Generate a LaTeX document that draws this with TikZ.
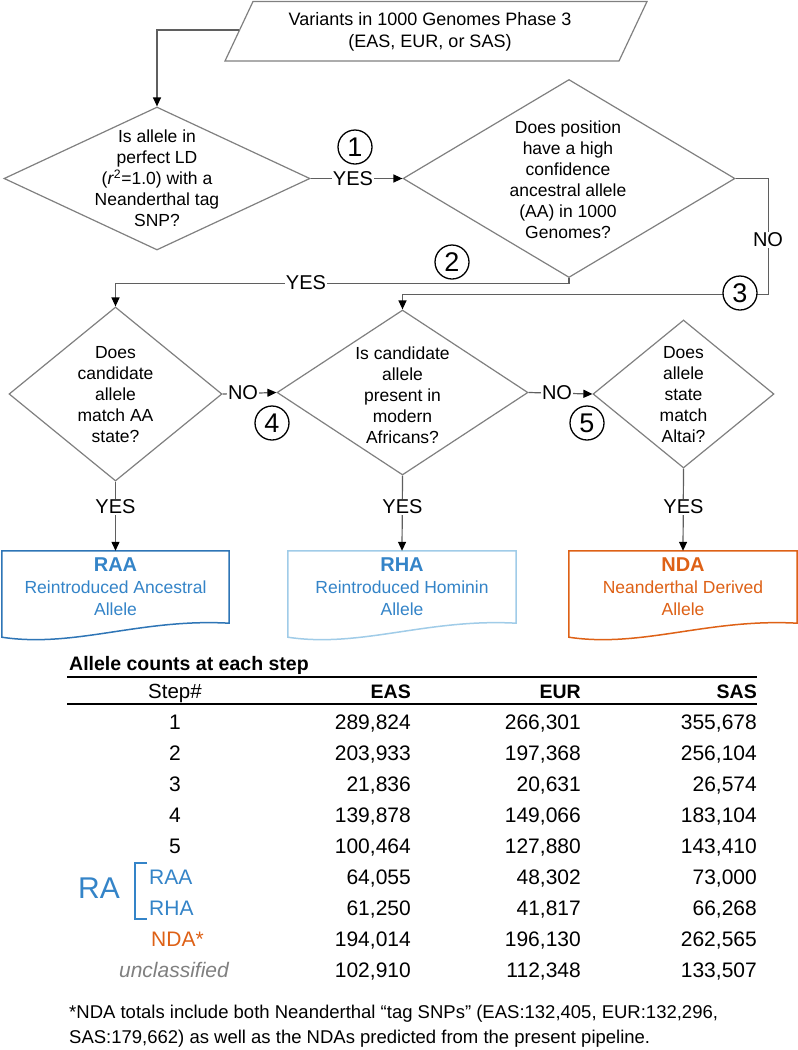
\documentclass[tikz,border=0pt]{standalone}
\usepackage{fontspec}
\setmainfont{Liberation Sans}
\usetikzlibrary{arrows.meta,shapes.geometric,calc}
\definecolor{graybd}{RGB}{128,128,128}
\definecolor{connc}{RGB}{95,95,95}
\definecolor{raablue}{RGB}{46,117,182}
\definecolor{txtblue}{RGB}{52,132,200}
\definecolor{rhabd}{RGB}{160,204,232}
\definecolor{ndaor}{RGB}{222,97,22}
\definecolor{unclgray}{RGB}{128,128,128}
\tikzset{
  dia/.style={diamond, draw=graybd, line width=1.2pt, inner sep=0pt},
  dtxt/.style={align=center, inner sep=0pt, font=\fontsize{17.5}{21}\selectfont},
  lbl/.style={fill=white, inner sep=1.2pt, font=\fontsize{20}{20}\selectfont},
  conn/.style={draw=connc, line width=1.2pt, -{Triangle[length=9pt,width=8pt,color=black]}},
  stepno/.style={circle, draw=black, line width=1.3pt, fill=white, minimum size=34pt, inner sep=0pt, font=\fontsize{27}{27}\selectfont},
  docbox/.style={rectangle, inner sep=0pt, minimum height=72pt, align=center, font=\fontsize{17.5}{22}\selectfont},
  tnum/.style={inner sep=0pt, anchor=base east, font=\fontsize{21}{21}\selectfont},
  tlab/.style={inner sep=0pt, anchor=base, font=\fontsize{21}{21}\selectfont},
  thead/.style={inner sep=0pt, anchor=base east, font=\fontsize{19.5}{20}\selectfont\bfseries},
  trule/.style={line width=1.8pt, draw=black},
}
\begin{document}
\begin{tikzpicture}[x=1pt,y=-1pt]
\useasboundingbox (0,0) rectangle (798,1050);
\fill[white] (0,0) rectangle (798,1050);

% input parallelogram
\draw[draw=graybd, line width=1.2pt] (253,1.5) -- (647,1.5) -- (619,61) -- (225,61) -- cycle;
\node[align=center, inner sep=0pt, font=\fontsize{18}{22}\selectfont] (input) at (430,32)
  {Variants in 1000 Genomes Phase 3\\(EAS, EUR, or SAS)};
\coordinate (inleft) at (239,30);

% diamonds
\node[dia, minimum width=306pt, minimum height=143pt] (d1) at (157,178.5) {};
\node[dtxt] (t1) at (157,178.5) {Is allele in\\perfect LD\\(\textit{r}\textsuperscript{2}=1.0) with a\\Neanderthal tag\\SNP?};

\node[dia, minimum width=332pt, minimum height=198pt] (d2) at (569,178.5) {};
\node[dtxt] (t2) at (568,180) {Does position\\have a high\\confidence\\ancestral allele\\(AA) in 1000\\Genomes?};

\node[dia, minimum width=213pt, minimum height=174pt] (d3) at (115.5,394) {};
\node[dtxt] (t3) at (115.5,395) {Does\\candidate\\allele\\match AA\\state?};

\node[dia, minimum width=251pt, minimum height=165pt] (d4) at (402.5,392.5) {};
\node[dtxt] (t4) at (402.5,395) {Is candidate\\allele\\present in\\modern\\Africans?};

\node[dia, minimum width=181pt, minimum height=148pt] (d5) at (683.5,394) {};
\node[dtxt] (t5) at (683.5,395) {Does\\allele\\state\\match\\Altai?};

% document boxes
\node[docbox, minimum width=227pt, text=txtblue] (raa) at (115.5,587)
  {{\fontsize{20}{22}\selectfont\bfseries RAA}\\Reintroduced Ancestral\\Allele};
\node[docbox, minimum width=228pt, text=txtblue] (rha) at (402,587)
  {{\fontsize{20}{22}\selectfont\bfseries RHA}\\Reintroduced Hominin\\Allele};
\node[docbox, minimum width=228pt, text=ndaor] (nda) at (683,587)
  {{\fontsize{20}{22}\selectfont\bfseries NDA}\\Neanderthal Derived\\Allele};
\foreach \n/\c in {raa/raablue, rha/rhabd, nda/ndaor}{
  \draw[draw=\c, line width=1.5pt] (\n.north west) -- (\n.north east) -- (\n.south east)
    .. controls ($(\n.south east)+(-89,-5)$) and ($(\n.south west)+(73,25)$) .. ($(\n.south west)+(0,14)$) -- cycle;
}

% connectors
\draw[conn] (inleft) -| (d1.north);
\draw[conn] (d1.east) -- (d2.west);
\draw[conn] (d2.south) -- ++(0,5) -| (d3.north);
\draw[conn] (d2.east) -- ++(33,0) -- ++(0,116) -| (d4.north);
\draw[conn] (d3.east) -- (d4.west);
\draw[conn] (d4.east) -- (d5.west);
\draw[conn] (d3.south) -- (raa.north);
\draw[conn] (d4.south) -- (rha.north);
\draw[conn] (d5.south) -- (nda.north);

% connector labels
\node[lbl] (y1) at (353,179) {YES};
\node[lbl] (y2) at (306,283) {YES};
\node[lbl] (n3) at (768,240) {NO};
\node[lbl] (n4) at (243,393) {NO};
\node[lbl] (n5) at (557,393) {NO};
\node[lbl] (y3) at (115.5,507) {YES};
\node[lbl] (y4) at (402.5,507) {YES};
\node[lbl] (y5) at (683.5,507) {YES};

% step numbers
\node[stepno] (s1) at (355,147) {1};
\node[stepno] (s2) at (452,262) {2};
\node[stepno] (s3) at (740,293) {3};
\node[stepno] (s4) at (272,423) {4};
\node[stepno] (s5) at (587,423) {5};

% table
\node[inner sep=0pt, anchor=base west, font=\fontsize{19.5}{20}\selectfont\bfseries] (ttl) at (69,670) {Allele counts at each step};
\draw[trule] (67,677) -- (757,677);
\node[inner sep=0pt, anchor=base, font=\fontsize{20.5}{21}\selectfont] (hstep) at (175,698) {Step\#};
\node[thead] (heas) at (411,698) {EAS};
\node[thead] (heur) at (581,698) {EUR};
\node[thead] (hsas) at (757,698) {SAS};
\draw[trule] (67,704) -- (757,704);

\foreach \k/\a/\b/\c in {0/{289,824}/{266,301}/{355,678},
                         1/{203,933}/{197,368}/{256,104},
                         2/{21,836}/{20,631}/{26,574},
                         3/{139,878}/{149,066}/{183,104},
                         4/{100,464}/{127,880}/{143,410},
                         5/{64,055}/{48,302}/{73,000},
                         6/{61,250}/{41,817}/{66,268},
                         7/{194,014}/{196,130}/{262,565},
                         8/{102,910}/{112,348}/{133,507}}{
  \node[tnum] (va\k) at (411,729+31*\k) {\a};
  \node[tnum] (vb\k) at (581,729+31*\k) {\b};
  \node[tnum] (vc\k) at (757,729+31*\k) {\c};
}
\foreach \k in {1,...,5}{
  \node[tlab] (st\k) at (175,729+31*\k-31) {\k};
}
\node[inner sep=0pt, anchor=base west, text=txtblue, font=\fontsize{30}{30}\selectfont] (ra) at (78,898) {RA};
\draw[draw=txtblue, line width=2pt] (147,863) -- (135,863) -- (135,919) -- (147,919);
\node[tlab, anchor=base west, text=txtblue] (lraa) at (149,884) {RAA};
\node[tlab, anchor=base west, text=txtblue] (lrha) at (149,915) {RHA};
\node[tlab, anchor=base west, text=ndaor] (lnda) at (151,946) {NDA*};
\node[tlab, text=unclgray, font=\fontsize{21}{21}\selectfont\itshape] (lunc) at (174,977) {unclassified};

% footnote
\node[inner sep=0pt, anchor=base west, font=\fontsize{18.5}{22}\selectfont] (fn1) at (69,1018.5)
  {*NDA totals include both Neanderthal “tag SNPs” (EAS:132,405, EUR:132,296,};
\node[inner sep=0pt, anchor=base west, font=\fontsize{18.5}{22}\selectfont] (fn2) at (69,1043)
  {SAS:179,662) as well as the NDAs predicted from the present pipeline.};
\end{tikzpicture}
\end{document}
